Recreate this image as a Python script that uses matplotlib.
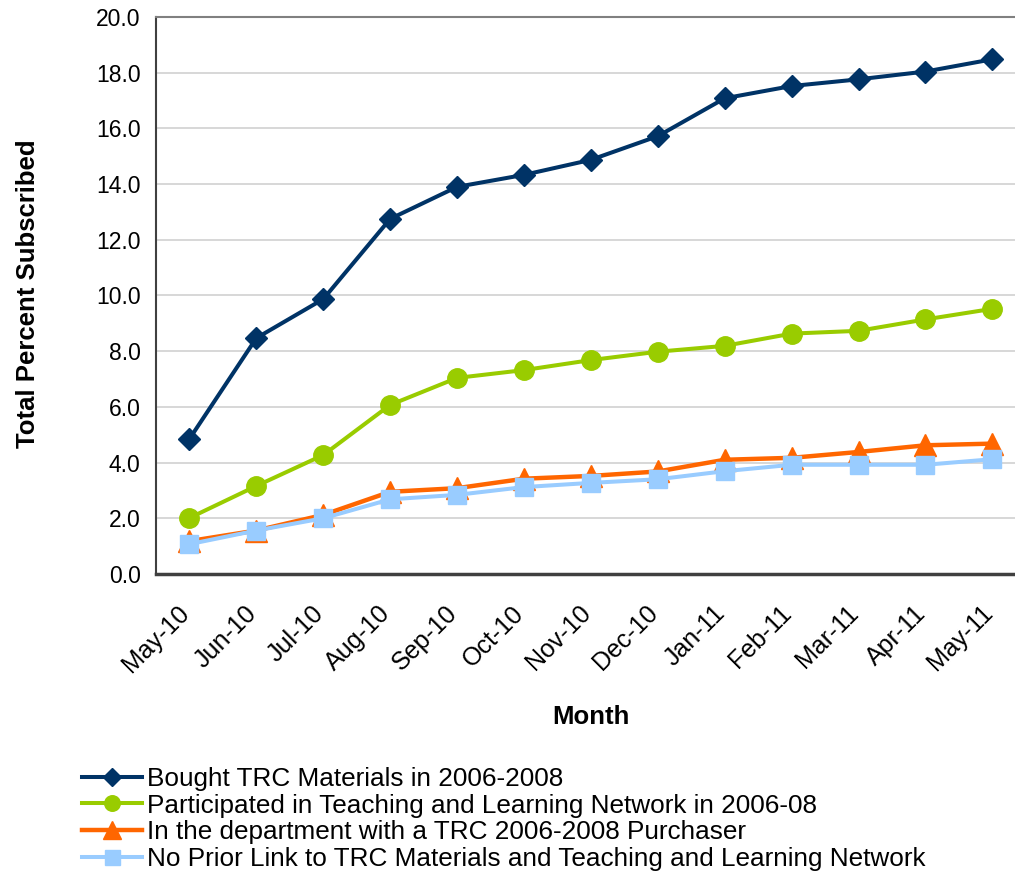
import matplotlib
matplotlib.use("Agg")
import matplotlib.pyplot as plt
from matplotlib.transforms import ScaledTranslation

plt.rcParams['font.family'] = ['Liberation Sans', 'DejaVu Sans']

months = ["May-10", "Jun-10", "Jul-10", "Aug-10", "Sep-10", "Oct-10", "Nov-10",
          "Dec-10", "Jan-11", "Feb-11", "Mar-11", "Apr-11", "May-11"]
bought = [4.85, 8.47, 9.87, 12.75, 13.9, 14.33, 14.87, 15.72, 17.08, 17.52, 17.76, 18.04, 18.48]
participated = [2.01, 3.16, 4.27, 6.07, 7.04, 7.32, 7.68, 7.98, 8.19, 8.63, 8.73, 9.14, 9.52]
department = [1.18, 1.56, 2.12, 2.95, 3.08, 3.42, 3.52, 3.68, 4.1, 4.17, 4.38, 4.62, 4.68]
no_link = [1.07, 1.56, 2.0, 2.68, 2.84, 3.12, 3.27, 3.4, 3.69, 3.92, 3.92, 3.92, 4.12]

labels = ["Bought TRC Materials in 2006-2008",
          "Participated in Teaching and Learning Network in 2006-08",
          "In the department with a TRC 2006-2008 Purchaser",
          "No Prior Link to TRC Materials and Teaching and Learning Network"]

fig = plt.figure(figsize=(10.15, 8.83), dpi=100)
ax = fig.add_axes([0.1537, 0.35, 0.857, 0.6308])

x = list(range(len(months)))
ax.plot(x, bought, color='#003366', lw=2.9, marker='D', ms=11, label=labels[0], zorder=3)
ax.plot(x, participated, color='#99CC00', lw=2.9, marker='o', ms=14, label=labels[1], zorder=3)
ax.plot(x, department, color='#FF6600', lw=3.2, marker='^', ms=16, label=labels[2], zorder=3)
ax.plot(x, no_link, color='#99CCFF', lw=2.9, marker='s', ms=13.5, label=labels[3], zorder=4)

ax.set_xlim(-0.5, len(months) - 0.5)
ax.set_ylim(0, 20)
ax.set_yticks([i * 2.0 for i in range(11)])
ax.set_yticklabels([f"{i * 2.0:.1f}" for i in range(11)], fontsize=16.5)
ax.set_xticks(x)
ax.set_xticklabels(months, rotation=45, ha='right', va='top', rotation_mode='anchor', fontsize=18)
ax.tick_params(axis='y', length=0, pad=11)
ax.tick_params(axis='x', length=0, pad=0)
off = ScaledTranslation(-12 / 100, -27 / 100, fig.dpi_scale_trans)
for lab in ax.get_xticklabels():
    lab.set_transform(lab.get_transform() + off)
ax.yaxis.grid(True, color='#d4d4d4', lw=1.3)
ax.set_axisbelow(True)

ax.spines['right'].set_visible(False)
ax.spines['top'].set_color('#808080')
ax.spines['top'].set_linewidth(1.5)
ax.spines['left'].set_color('#404040')
ax.spines['left'].set_linewidth(1.5)
ax.spines['bottom'].set_color('#404040')
ax.spines['bottom'].set_linewidth(2.5)

fig.text(28 / 1015, 1 - 294 / 883, "Total Percent Subscribed", fontsize=18.5, fontweight='bold',
         rotation=90, ha='center', va='center')
fig.text(591 / 1015, 1 - 717 / 883, "Month", fontsize=18.5, fontweight='bold',
         ha='center', va='center')

handles, lbls = ax.get_legend_handles_labels()
leg = fig.legend(handles, lbls, loc='upper left', bbox_to_anchor=(82 / 1015, 1 - 767 / 883),
                 frameon=False, fontsize=18.8, handlelength=2.3, handletextpad=0.2,
                 labelspacing=0.1, borderaxespad=0, borderpad=0, markerscale=0.8)

fig.savefig("out.png", dpi=100)
